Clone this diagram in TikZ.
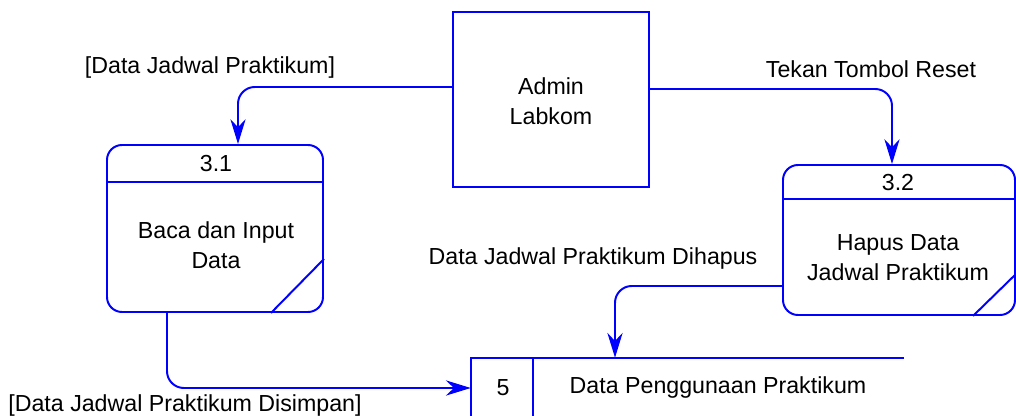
\documentclass[tikz,border=0pt]{standalone}
\usepackage{fontspec}
\setmainfont{Liberation Sans}
\usetikzlibrary{arrows.meta}
\definecolor{dfdblue}{RGB}{0,0,255}
\tikzset{
  lbl/.style={font=\fontsize{16.5}{21.5}\selectfont, align=center, inner sep=0pt},
  proc/.style={draw=dfdblue, line width=1.4pt, rounded corners=0.375cm, minimum width=5.4cm},
  flow/.style={draw=dfdblue, line width=1.4pt, rounded corners=0.42cm,
    -{Stealth[length=0.62cm, width=0.38cm, inset=0.2cm]}},
  edge/.style={draw=dfdblue, line width=1.4pt},
}
\begin{document}
\begin{tikzpicture}
            \useasboundingbox (0,0) rectangle (25.4,10.4);

            % external entity
            \node[draw=dfdblue, line width=1.4pt, minimum width=4.9cm, minimum height=4.375cm] (admin) at (13.775,7.9125) {};
            \node[lbl] (admint) at (13.775,7.875) {Admin\\Labkom};

            % processes
            \node[proc, minimum height=4.175cm] (p31) at (5.375,4.6875) {};
            \draw[edge] ([yshift=-0.95cm]p31.north west) -- ([yshift=-0.95cm]p31.north east);
            \draw[edge] ([xshift=-1.325cm]p31.south east) -- ([yshift=1.35cm]p31.south east);
            \node[lbl] (p31n) at (5.4,6.3) {3.1};
            \node[lbl] (p31t) at (5.4,4.275) {Baca dan Input\\Data};

            \node[proc, minimum width=5.8cm, minimum height=3.75cm] (p32) at (22.475,4.4) {};
            \draw[edge] ([yshift=-0.875cm]p32.north west) -- ([yshift=-0.875cm]p32.north east);
            \draw[edge] ([xshift=-1.075cm]p32.south east) -- ([yshift=1.05cm]p32.south east);
            \node[lbl] (p32n) at (22.45,5.84) {3.2};
            \node[lbl] (p32t) at (22.45,3.95) {Hapus Data\\Jadwal Praktikum};

            % data store
            \node[minimum width=10.825cm, minimum height=1.5cm, inner sep=0pt] (ds5) at (17.1875,0.7) {};
            \draw[edge] (ds5.south west) -- (ds5.north west) -- (ds5.north east);
            \draw[edge] ([xshift=1.55cm]ds5.north west) -- ([xshift=1.55cm]ds5.south west);
            \node[lbl] (ds5n) at (12.575,0.7) {5};
            \node[lbl] (ds5t) at (17.95,0.7) {Data Penggunaan Praktikum};

            % flows
            \draw[flow] ([yshift=0.3125cm]admin.west) -| ([xshift=0.575cm]p31.north);
            \node[lbl] (f1) at (5.25,8.7) {[Data Jadwal Praktikum]};
            \draw[flow] ([yshift=0.2625cm]admin.east) -| ([xshift=-0.175cm]p32.north);
            \node[lbl] (f2) at (21.775,8.675) {Tekan Tombol Reset};
            \draw[flow] ([yshift=-1.15cm]p32.west) -| ([xshift=-1.8125cm]ds5.north);
            \node[lbl] (f3) at (14.825,3.925) {Data Jadwal Praktikum Dihapus};
            \draw[flow] ([xshift=-1.2cm]p31.south) |- (ds5.west);
            \node[lbl] (f4) at (4.625,0.25) {[Data Jadwal Praktikum Disimpan]};
\end{tikzpicture}
\end{document}
